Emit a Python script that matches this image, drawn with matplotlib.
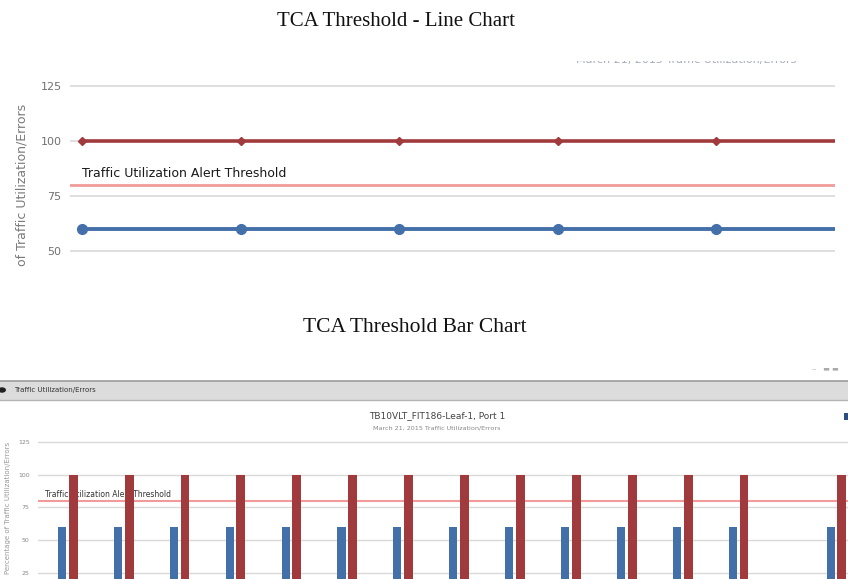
import matplotlib.pyplot as plt
from matplotlib.patches import Rectangle, Circle

W, H = 848, 579

# line chart series
line_x = [0, 1, 2, 3, 4, 5]
line_errors = [100, 100, 100, 100, 100, 100]
line_util = [60, 60, 60, 60, 60, 60]

# bar chart series (sample slots, last one comes after a gap)
bar_x = [0, 1, 2, 3, 4, 5, 6, 7, 8, 9, 10, 11, 12, 13.75]
bar_util = [60, 60, 60, 60, 60, 60, 60, 60, 60, 60, 60, 60, 60, 60]
bar_errors = [100, 100, 100, 100, 100, 100, 100, 100, 100, 100, 100, 100, 100, 100]

threshold = 80
line_ticks = [50, 75, 100, 125]
bar_ticks = [25, 50, 75, 100, 125]

RED = '#a13a3d'
BLUE = '#4470aa'
THRESH = '#f09a9a'
GRID = '#d9d9d9'
TICKC = '#707070'
SANS = 'DejaVu Sans'


def px(x0, y0, x1, y1):
    # pixel box (top-left origin) -> figure fraction [left, bottom, width, height]
    return [x0 / W, 1 - y1 / H, (x1 - x0) / W, (y1 - y0) / H]


def fx(x):
    return x / W


def fy(y):
    return 1 - y / H


fig = plt.figure(figsize=(W / 100, H / 100), dpi=100)
fig.patch.set_facecolor('white')

fig.text(fx(396), fy(21), 'TCA Threshold - Line Chart', family='Liberation Serif',
         fontsize=15, ha='center', va='center', color='#111')
fig.text(fx(415), fy(327), 'TCA Threshold Bar Chart', family='Liberation Serif',
         fontsize=15.5, ha='center', va='center', color='#111')

# ---- line chart ----
ax1 = fig.add_axes(px(70, 61, 835, 290))
ax1.set_xlim(-0.076, 4.75)
ax1.set_ylim(32.4, 136.3)
ax1.set_yticks(line_ticks)
ax1.set_xticks([])
ax1.grid(axis='y', color=GRID, lw=1.2)
ax1.set_axisbelow(True)
for s in ax1.spines.values():
    s.set_visible(False)
ax1.tick_params(axis='y', length=0, pad=6, labelsize=8, labelcolor=TICKC)
for lab in ax1.get_yticklabels():
    lab.set_family(SANS)

ax1.axhline(threshold, color=THRESH, lw=2, zorder=2)
ax1.text(0, threshold + 2.3, 'Traffic Utilization Alert Threshold', fontsize=9,
         color='#1a1a1a', family=SANS, va='bottom', ha='left')
ax1.plot(line_x, line_errors, color=RED, lw=2.6, marker='D', ms=4.5, zorder=3)
ax1.plot(line_x, line_util, color=BLUE, lw=2.8, marker='o', ms=7, zorder=3)
# subtitle sits mostly above the visible area, only its lower edge shows
ax1.text(3.81, 136.9, 'March 21, 2015 Traffic Utilization/Errors', fontsize=8,
         color='#a4acbd', family=SANS, ha='center', va='center', clip_on=True)

fig.text(fx(22), fy(185), 'of Traffic Utilization/Errors', rotation=90, fontsize=9,
         color='#7a7a7a', family=SANS, ha='center', va='center')

# ---- bar chart widget ----
fig.patches.append(Rectangle((0, fy(400)), 1, (400 - 381) / H, transform=fig.transFigure,
                             facecolor='#dcdcdc', edgecolor='none'))
fig.add_artist(plt.Line2D([0, 1], [fy(381), fy(381)], color='#9c9c9c', lw=1.2))
fig.add_artist(plt.Line2D([0, 1], [fy(400), fy(400)], color='#b4b4b4', lw=1))
fig.patches.append(Circle((fx(2), fy(390)), 4 / W, transform=fig.transFigure,
                          facecolor='#222', edgecolor='none'))
fig.text(fx(14), fy(390), 'Traffic Utilization/Errors', fontsize=5, color='#333',
         family=SANS, va='center')
fig.text(fx(812), fy(369), '‒   ▬ ▬', fontsize=5, color='#aaa', family=SANS, va='center')
fig.patches.append(Rectangle((fx(844), fy(420)), 4 / W, 7 / H, transform=fig.transFigure,
                             facecolor='#2d4f80', edgecolor='none'))

fig.text(fx(437), fy(416), 'TB10VLT_FIT186-Leaf-1, Port 1', fontsize=6.5, color='#444',
         family=SANS, ha='center', va='center')
fig.text(fx(437), fy(428), 'March 21, 2015 Traffic Utilization/Errors', fontsize=4.6,
         color='#888', family=SANS, ha='center', va='center')
fig.text(fx(8), fy(442), 'Percentage of Traffic Utilization/Errors', rotation=90,
         fontsize=5, color='#999', family=SANS, ha='center', va='top')

ax2 = fig.add_axes(px(38, 437, 848, 579))
ax2.set_xlim(-0.43, 14.06)
ax2.set_ylim(20.4, 128.8)
ax2.set_yticks(bar_ticks)
ax2.set_xticks([])
ax2.grid(axis='y', color=GRID, lw=1)
ax2.set_axisbelow(True)
for s in ax2.spines.values():
    s.set_visible(False)
ax2.tick_params(axis='y', length=0, pad=6, labelsize=4.5, labelcolor='#888')

ax2.axhline(threshold, color=THRESH, lw=1.5, zorder=1)
ax2.text(0 - 0.3, threshold + 1.5, 'Traffic Utilization Alert Threshold', fontsize=5.5,
         color='#333', family=SANS, va='bottom', ha='left', zorder=1)
bw = 0.145
ax2.bar(bar_x, bar_util, width=bw, color=BLUE, zorder=3)
ax2.bar([x + 0.2 for x in bar_x], bar_errors, width=bw + 0.015, color=RED, zorder=3)

fig.savefig('out.png', dpi=100, facecolor='white')
